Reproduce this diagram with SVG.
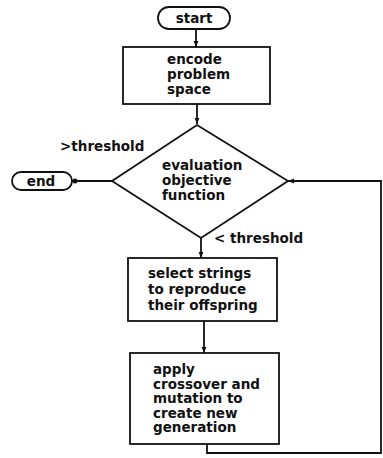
<svg xmlns="http://www.w3.org/2000/svg" width="383" height="458" viewBox="0 0 383 458">
<defs>
<style>
.s{fill:none;stroke:#111;stroke-width:1.8}
.b{fill:#fff;stroke:#111;stroke-width:1.8}
text{font-family:"DejaVu Sans","Liberation Sans",sans-serif;font-weight:bold;font-size:13.5px;fill:#111}
</style>
<marker id="ar" viewBox="0 0 10 10" refX="10" refY="5" markerWidth="6" markerHeight="6" orient="auto" markerUnits="userSpaceOnUse">
<path d="M0,1 L10,5 L0,9 Z" fill="#111"/>
</marker>
</defs>
<rect width="383" height="458" fill="#fff"/>
<g id="connectors">
<line class="s" x1="196" y1="29" x2="196" y2="47" marker-end="url(#ar)"/>
<line class="s" x1="197" y1="104" x2="197" y2="124" marker-end="url(#ar)"/>
<line class="s" x1="112" y1="181" x2="72" y2="181"/>
<circle cx="75" cy="181" r="2.5" fill="#111"/>
<line class="s" x1="201" y1="238" x2="201" y2="258" marker-end="url(#ar)"/>
<line class="s" x1="204" y1="321" x2="204" y2="353" marker-end="url(#ar)"/>
<polyline class="s" points="207,444 207,453 381,453 381,181 288,181" marker-end="url(#ar)"/>
<text x="60" y="151">&gt;threshold</text>
<text x="214" y="243">&lt; threshold</text>
</g>
<g id="start">
<rect class="b" x="158" y="7" width="72" height="22" rx="11"/>
<text x="194" y="23" text-anchor="middle">start</text>
</g>
<g id="encode">
<rect class="b" x="123" y="47" width="147" height="57"/>
<text x="167" y="64">encode</text>
<text x="167" y="79">problem</text>
<text x="167" y="94">space</text>
</g>
<g id="evaluation">
<polygon class="b" points="197,125 288,181 201,238 112,181"/>
<text x="162" y="170">evaluation</text>
<text x="162" y="185">objective</text>
<text x="162" y="200">function</text>
</g>
<g id="end">
<rect class="b" x="12" y="172" width="60" height="18" rx="9"/>
<text x="41" y="186" text-anchor="middle">end</text>
</g>
<g id="select">
<rect class="b" x="128" y="258" width="149" height="63"/>
<text x="148" y="278">select strings</text>
<text x="148" y="294">to reproduce</text>
<text x="148" y="310">their offspring</text>
</g>
<g id="apply">
<rect class="b" x="130" y="353" width="149" height="91"/>
<text x="153" y="374">apply</text>
<text x="153" y="388.5">crossover and</text>
<text x="153" y="403">mutation to</text>
<text x="153" y="417.5">create new</text>
<text x="153" y="432">generation</text>
</g>
</svg>
